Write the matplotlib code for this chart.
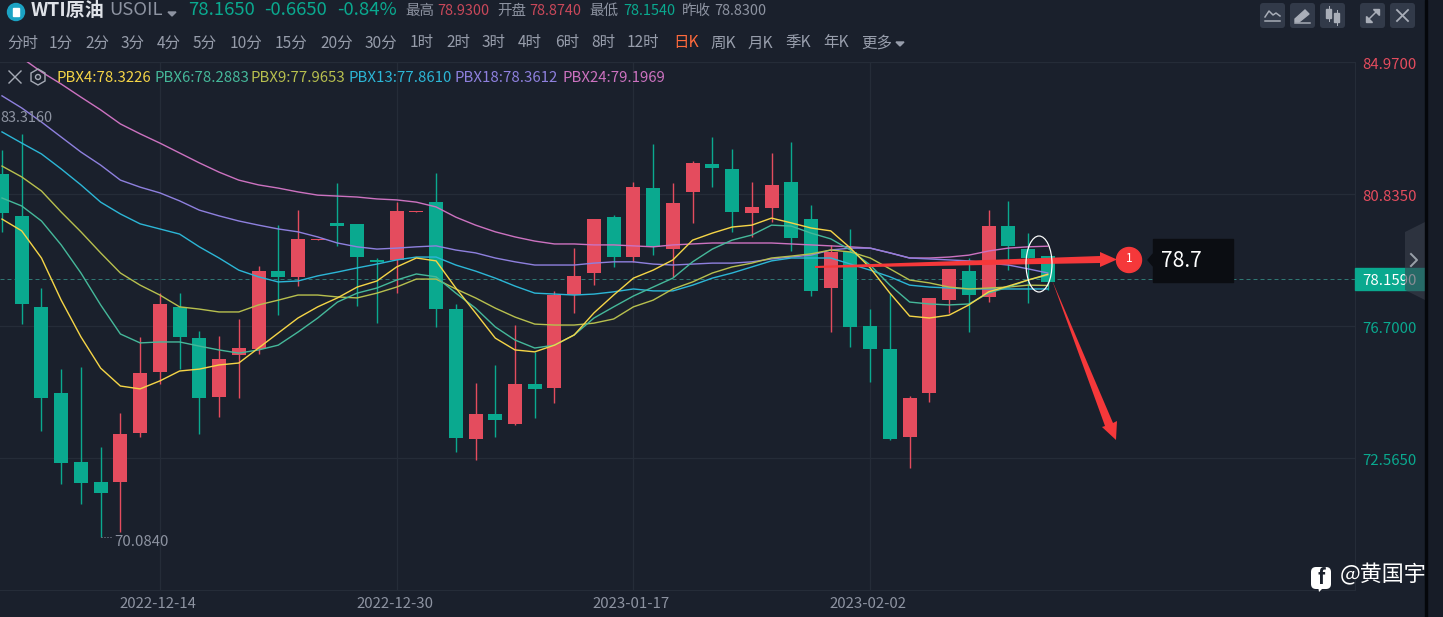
import matplotlib
matplotlib.use('Agg')
import matplotlib.pyplot as plt
from matplotlib.patches import Polygon, Circle, Ellipse, Rectangle, FancyBboxPatch

plt.rcParams['font.family'] = ['Noto Sans CJK SC', 'DejaVu Sans']

# daily candles
opens = [81.46, 80.15, 77.30, 74.60, 72.44, 71.81, 71.81, 73.35, 75.26, 77.30, 76.32, 74.48, 75.79, 75.98,
         78.42, 78.24, 79.39, 79.93, 79.90, 78.77, 78.77, 80.27, 80.58, 77.23, 73.16, 73.94, 73.63, 74.88,
         74.76, 77.67, 78.36, 80.11, 78.86, 81.02, 79.11, 80.90, 81.78, 81.62, 80.24, 80.40, 81.21, 80.05,
         77.89, 79.02, 76.70, 75.98, 73.22, 74.60, 77.51, 78.42, 77.61, 79.83, 79.11, 78.89]
closes = [80.24, 77.39, 74.44, 72.41, 71.78, 71.47, 73.32, 75.23, 77.39, 76.36, 74.44, 75.67, 76.01, 78.42,
          78.24, 79.43, 79.43, 79.83, 78.86, 78.71, 80.30, 80.30, 77.23, 73.19, 73.94, 73.75, 74.88, 74.73,
          77.67, 78.27, 80.05, 78.86, 81.05, 79.18, 80.55, 81.81, 81.65, 80.27, 80.43, 81.12, 79.46, 77.80,
          79.02, 76.67, 75.98, 73.16, 74.44, 77.58, 78.49, 77.67, 79.83, 79.21, 78.83, 78.08]
highs = [82.21, 82.72, 77.89, 75.35, 75.42, 72.91, 73.97, 76.36, 77.73, 77.73, 76.54, 76.39, 76.92, 78.58,
         79.86, 80.33, 79.43, 81.18, 79.90, 78.83, 80.58, 80.30, 81.49, 77.39, 74.91, 75.48, 76.73, 75.89,
         77.80, 79.14, 80.05, 80.18, 81.21, 82.40, 81.18, 81.87, 82.62, 82.25, 81.21, 82.12, 82.46, 80.49,
         79.24, 79.74, 77.23, 77.73, 74.51, 77.58, 78.49, 78.83, 80.33, 80.62, 79.61, 78.89]
lows = [79.65, 76.76, 73.41, 71.75, 71.12, 70.08, 70.25, 73.22, 74.88, 75.35, 73.32, 73.85, 74.44, 75.82,
        77.04, 77.95, 79.39, 79.21, 77.33, 76.79, 77.73, 80.27, 76.67, 72.75, 72.50, 73.22, 73.60, 73.82,
        74.29, 77.11, 77.98, 78.55, 78.71, 78.92, 78.24, 79.93, 81.05, 79.65, 79.49, 79.96, 79.05, 77.64,
        76.51, 76.04, 74.95, 73.13, 72.25, 74.32, 77.11, 76.51, 77.45, 78.45, 77.42, 77.83]

# PBX lines
pbx4 = [80.05, 79.68, 78.83, 77.51, 76.36, 75.38, 74.82, 74.73, 74.98, 75.29, 75.35, 75.48, 75.54, 76.01,
        76.48, 76.95, 77.30, 77.58, 77.92, 78.11, 78.55, 78.83, 78.74, 77.89, 77.11, 76.32, 75.95, 75.89,
        76.10, 76.42, 77.11, 77.67, 78.20, 78.45, 78.77, 79.39, 79.61, 79.80, 79.86, 80.08, 79.93, 79.77,
        79.68, 79.14, 78.52, 77.73, 77.01, 76.95, 77.04, 77.36, 77.77, 77.95, 78.14, 78.32]
pbx6 = [80.71, 80.46, 79.99, 79.24, 78.36, 77.36, 76.45, 76.17, 76.20, 76.20, 76.07, 75.95, 75.85, 75.95,
        76.10, 76.51, 76.95, 77.45, 77.73, 77.89, 78.14, 78.33, 78.24, 77.73, 77.26, 76.67, 76.26, 76.01,
        76.10, 76.42, 76.95, 77.30, 77.64, 77.92, 78.20, 78.71, 79.11, 79.39, 79.55, 79.86, 79.83, 79.61,
        79.43, 79.08, 78.61, 77.98, 77.45, 77.39, 77.36, 77.39, 77.73, 77.92, 78.14, 78.29]
pbx9 = [81.71, 81.37, 80.93, 80.27, 79.65, 78.99, 78.36, 77.98, 77.67, 77.30, 77.23, 77.14, 77.14, 77.36,
        77.51, 77.67, 77.67, 77.61, 77.58, 77.73, 77.92, 78.17, 78.17, 77.86, 77.58, 77.26, 76.98, 76.76,
        76.73, 76.73, 76.79, 76.92, 77.30, 77.51, 77.86, 78.08, 78.36, 78.55, 78.67, 78.83, 78.89, 78.96,
        79.08, 79.02, 78.83, 78.49, 78.14, 78.05, 77.92, 77.86, 77.89, 77.92, 77.98, 77.97]
pbx13 = [82.78, 82.43, 82.09, 81.62, 81.12, 80.58, 80.21, 79.90, 79.74, 79.58, 79.18, 78.83, 78.45, 78.24,
         78.08, 78.11, 78.27, 78.39, 78.52, 78.64, 78.77, 78.86, 78.86, 78.61, 78.42, 78.20, 77.95, 77.73,
         77.70, 77.67, 77.70, 77.77, 77.86, 77.80, 77.80, 77.98, 78.20, 78.36, 78.55, 78.74, 78.83, 78.83,
         78.83, 78.64, 78.45, 78.24, 77.98, 77.92, 77.89, 77.86, 77.86, 77.86, 77.86, 77.86]
pbx18 = [83.91, 83.53, 83.09, 82.62, 82.15, 81.74, 81.27, 81.05, 80.87, 80.62, 80.33, 80.15, 79.99, 79.86,
         79.74, 79.65, 79.49, 79.30, 79.18, 79.11, 79.14, 79.18, 79.21, 79.08, 78.99, 78.83, 78.71, 78.61,
         78.61, 78.61, 78.67, 78.71, 78.71, 78.64, 78.61, 78.64, 78.67, 78.67, 78.71, 78.80, 78.86, 78.92,
         79.08, 79.14, 79.14, 78.99, 78.83, 78.80, 78.77, 78.74, 78.67, 78.61, 78.49, 78.36]
pbx24 = [85.35, 85.10, 84.66, 84.28, 83.87, 83.47, 83.03, 82.72, 82.43, 82.12, 81.81, 81.52, 81.27, 81.12,
         81.02, 80.90, 80.80, 80.77, 80.74, 80.68, 80.65, 80.58, 80.43, 80.11, 79.86, 79.65, 79.49, 79.36,
         79.27, 79.27, 79.24, 79.24, 79.21, 79.18, 79.24, 79.27, 79.30, 79.30, 79.30, 79.30, 79.27, 79.24,
         79.21, 79.18, 79.14, 78.99, 78.83, 78.83, 78.86, 78.92, 79.05, 79.14, 79.18, 79.20]

price_levels = [84.97, 80.835, 76.70, 72.565]
price_labels = ['84.9700', '80.8350', '76.7000', '72.5650']
last_price = 78.159
date_pos = [8, 20, 32, 44]
date_labels = ['2022-12-14', '2022-12-30', '2023-01-17', '2023-02-02']

periods = ['分时', '1分', '2分', '3分', '4分', '5分', '10分', '15分', '20分', '30分', '1时', '2时', '3时', '4时',
           '6时', '8时', '12时', '日K', '周K', '月K', '季K', '年K', '更多']
period_x = [7, 49, 85, 121, 157, 193, 230, 275, 320, 365, 410, 446, 482, 518, 555, 591, 627, 673, 710, 748, 785, 823, 861]

legend_names = ['PBX4:78.3226', 'PBX6:78.2883', 'PBX9:77.9653', 'PBX13:77.8610', 'PBX18:78.3612', 'PBX24:79.1969']
legend_x = [56, 154, 251, 349, 455, 562]
line_colors = ['#f5d547', '#45b89a', '#b7bf4e', '#2cb6d6', '#8e80de', '#cc72c0']

BG = '#1a202c'
GRID = '#252c38'
GREEN = '#0aa98f'
RED = '#e44c5e'
GREY = '#8d93a1'
ANNOT = '#f5383a'


def px(n):
    return n * 0.72


fig = plt.figure(figsize=(14.43, 6.17), dpi=100, facecolor=BG)

# price chart, left 0..1355 px, top 62..590 px
ax = fig.add_axes([0, 27 / 617, 1355 / 1443, 528 / 617], facecolor=BG)
ax.set_xlim(-0.101, 68.57)
ax.set_ylim(68.43, 84.97)

for i in range(len(opens)):
    col = RED if closes[i] >= opens[i] else GREEN
    ax.vlines(i, lows[i], highs[i], color=col, lw=px(1.4), zorder=2)
    bottom = min(opens[i], closes[i])
    ax.bar(i, abs(closes[i] - opens[i]), bottom=bottom, width=0.71, color=col, zorder=3)

xs = list(range(len(opens)))
for vals, col in zip([pbx24, pbx18, pbx13, pbx9, pbx6, pbx4], line_colors[::-1]):
    ax.plot(xs, vals, color=col, lw=px(1.4), zorder=4)

ax.axhline(last_price, color='#2f7773', lw=px(1), ls=(0, (4, 3)), zorder=1)

ax.set_yticks(price_levels)
ax.set_yticklabels([])
ax.yaxis.tick_right()
ax.set_xticks(date_pos)
ax.set_xticklabels([])
ax.tick_params(length=0)
ax.grid(True, color=GRID, lw=px(1.2), zorder=0)
ax.set_axisbelow(True)
for s in ['left', 'top']:
    ax.spines[s].set_visible(False)
for s in ['right', 'bottom']:
    ax.spines[s].set_color(GRID)

for lev, lab in zip(price_levels, price_labels):
    col = RED if lev > last_price else GREEN
    ax.annotate(lab, xy=(1, lev), xycoords=ax.get_yaxis_transform(), xytext=(7, -3), textcoords='offset pixels',
                color=col, fontsize=px(15), va='center', ha='left', annotation_clip=False)

for pos, lab in zip(date_pos, date_labels):
    ax.annotate(lab, xy=(pos, 0), xycoords=ax.get_xaxis_transform(), xytext=(-2, -14), textcoords='offset pixels',
                color=GREY, fontsize=px(15), va='center', ha='center', annotation_clip=False)

ax.annotate('70.0840', xy=(5, min(lows)), xytext=(14, -5), textcoords='offset pixels',
            color=GREY, fontsize=px(15), va='center')
ax.hlines(min(lows), 5, 5.65, color=GREY, lw=px(1), ls=(0, (1, 2)), zorder=5)

# overlay in pixel coords for the app chrome and drawn annotations
ui = fig.add_axes([0, 0, 1, 1], facecolor='none')
ui.set_xlim(0, 1443)
ui.set_ylim(617, 0)
ui.axis('off')

ui.text(0.5, 118, '83.3160', color=GREY, fontsize=px(14.5), va='center')

# dark strip on the right
ui.add_patch(Rectangle((1425, 0), 2, 617, color='#05070b', zorder=6))
ui.add_patch(Rectangle((1427, 0), 16, 617, color='#171c27', zorder=1))

# header
ui.add_patch(Circle((16, 12), 8.5, color='#1ba3c4'))
ui.add_patch(Rectangle((13, 8), 6, 8, color='white', zorder=3))
ui.text(31, 10, 'WTI原油', color='#dfe2e8', fontsize=px(19), va='center', fontweight='bold')
ui.text(109, 10, 'USOIL', color=GREY, fontsize=px(18.5), va='center')
ui.add_patch(Polygon([[168, 12], [176, 12], [172, 16]], color=GREY))
ui.text(188, 10, '78.1650', color=GREEN, fontsize=px(18.5), va='center', fontweight='medium')
ui.text(264, 10, '-0.6650', color=GREEN, fontsize=px(18.5), va='center', fontweight='medium')
ui.text(337, 10, '-0.84%', color=GREEN, fontsize=px(18.5), va='center', fontweight='medium')

stats = [(405, '最高', GREY), (437, '78.9300', '#c9485a'), (497, '开盘', GREY), (529, '78.8740', '#c9485a'),
         (589, '最低', GREY), (623, '78.1540', GREEN), (682, '昨收', GREY), (714, '78.8300', GREY)]
for x, s, c in stats:
    ui.text(x, 11, s, color=c, fontsize=px(14.5), va='center')

for x, s in zip(period_x, periods):
    ui.text(x, 43, s, color='#ff6a3c' if s == '日K' else '#979dab', fontsize=px(15.5), va='center')
ui.add_patch(Polygon([[896, 42], [904, 42], [900, 46]], color='#979dab'))

# indicator legend row
ui.plot([9, 21], [71, 83], color='#a5aab5', lw=px(1.4))
ui.plot([9, 21], [83, 71], color='#a5aab5', lw=px(1.4))
ui.add_patch(Polygon([[38, 69], [45, 73], [45, 81], [38, 85], [31, 81], [31, 73]], fill=False, ec='#a5aab5', lw=px(1.4)))
ui.add_patch(Circle((38, 77), 2.5, fill=False, ec='#a5aab5', lw=px(1.4)))
for x, s, c in zip(legend_x, legend_names, line_colors):
    ui.text(x, 78, s, color=c, fontsize=px(15), va='center')

# toolbar buttons
for x in [1260, 1290, 1320, 1360, 1390]:
    ui.add_patch(FancyBboxPatch((x + 3, 6), 19, 19, boxstyle='round,pad=3', color='#323a49', lw=0))
ICON = '#a9aeb8'
ui.plot([1265, 1269, 1273, 1276, 1280], [17, 11, 15, 13, 16], color=ICON, lw=px(1.5))
ui.plot([1265, 1280], [21, 21], color=ICON, lw=px(1.5))
ui.add_patch(Polygon([[1295, 19], [1305, 10], [1309, 14], [1299, 22], [1295, 22]], color=ICON))
ui.plot([1295, 1310], [23, 23], color=ICON, lw=px(1.5))
ui.add_patch(Rectangle((1326, 9), 5, 9, color=ICON))
ui.plot([1328.5, 1328.5], [6, 21], color=ICON, lw=px(1))
ui.add_patch(Rectangle((1334, 13), 5, 9, color=ICON))
ui.plot([1336.5, 1336.5], [10, 25], color=ICON, lw=px(1))
ui.plot([1367, 1378], [21, 10], color=ICON, lw=px(1.5))
ui.add_patch(Polygon([[1373, 9], [1379, 9], [1379, 15]], color=ICON))
ui.add_patch(Polygon([[1366, 16], [1366, 22], [1372, 22]], color=ICON))
ui.plot([1397, 1408], [10, 21], color=ICON, lw=px(1.8))
ui.plot([1397, 1408], [21, 10], color=ICON, lw=px(1.8))

# last price tag and side handle
ui.add_patch(Rectangle((1355, 268), 70, 22, color=GREEN, zorder=3))
ui.text(1362, 281, '78.1590', color='white', fontsize=px(15), va='center', zorder=4)
ui.add_patch(Polygon([[1425, 222], [1405, 232], [1405, 290], [1425, 300]], color='#3a404d', alpha=0.6, lw=0, zorder=5))
ui.plot([1411, 1417, 1411], [254, 260, 266], color='#98a0a8', lw=px(2), zorder=6)

# drawn annotations
ui.add_patch(Polygon([[815, 266], [1100, 256], [1100, 252], [1117, 259.5], [1100, 267], [1100, 263], [815, 268]],
                     color=ANNOT, lw=0, zorder=8))
ui.add_patch(Polygon([[1052, 280], [1105, 426], [1102, 427], [1116, 440], [1117, 421], [1113, 423]],
                     color=ANNOT, lw=0, zorder=8))
ui.add_patch(Ellipse((1039, 264), 26, 56, fill=False, ec='white', lw=px(1.2), zorder=9))
ui.add_patch(Circle((1129, 260), 12.5, color=ANNOT, zorder=9))
ui.text(1129, 259, '1', color='white', fontsize=px(12), ha='center', va='center', zorder=10)
ui.add_patch(Rectangle((1153, 239), 80, 43, color='#0b0d12', zorder=8))
ui.add_patch(Polygon([[1153, 254], [1148, 260], [1153, 266]], color='#0b0d12', zorder=8))
ui.text(1161, 261, '78.7', color='white', fontsize=px(21), va='center', zorder=10)

# watermark
ui.add_patch(FancyBboxPatch((1316, 572), 10, 12, boxstyle='round,pad=5', color='white', lw=0, zorder=8))
ui.add_patch(Polygon([[1318, 586], [1325, 586], [1319, 592]], color='white', lw=0, zorder=8))
ui.text(1321, 578, 'f', color='#1a202c', fontsize=px(20), ha='center', va='center', fontweight='bold', style='italic', zorder=9)
ui.text(1340, 575, '@黄国宇', color='white', fontsize=px(22), va='center', zorder=9)

fig.savefig('out.png', dpi=100, facecolor=BG)
